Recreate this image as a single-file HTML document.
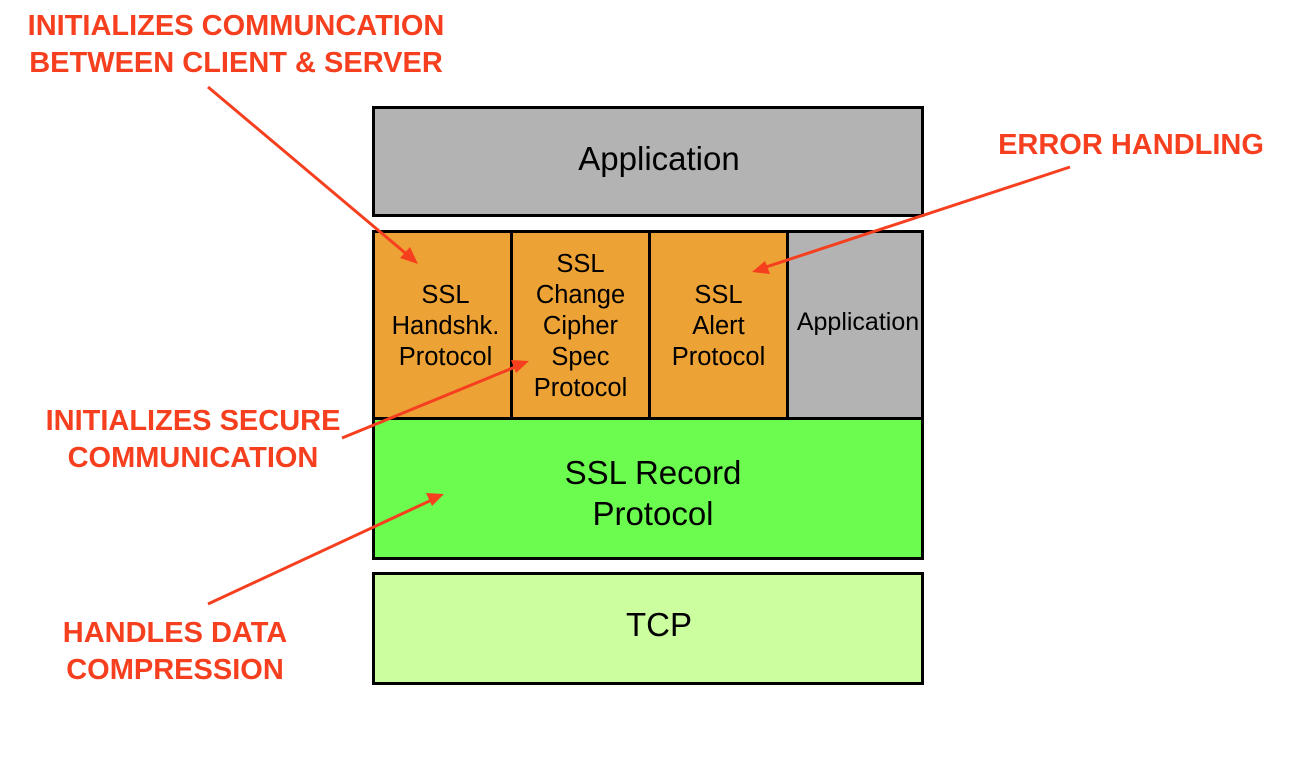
<!DOCTYPE html>
<html><head><style>
body{margin:0;width:1306px;height:758px;background:#fff;position:relative;overflow:hidden;font-family:"Liberation Sans",sans-serif}
.b{position:absolute;box-sizing:border-box;border:3px solid #000;display:flex;align-items:center;justify-content:center;text-align:center;color:#000}
.l{position:absolute;color:#f53f1f;font-weight:bold;font-size:29px;line-height:37px;text-align:center;white-space:nowrap}
</style></head><body>
<div class="b" style="left:372px;top:106px;width:552px;height:111px;background:#b3b3b3;font-size:33px;padding:0 0 6px 22px">Application</div>
<div class="b" style="left:372px;top:230px;width:141px;height:190px;background:#eda236;font-size:25.5px;line-height:31px;padding:2px 0 0 6px">SSL<br>Handshk.<br>Protocol</div>
<div class="b" style="left:510px;top:230px;width:141px;height:190px;background:#eda236;font-size:25.5px;line-height:31px;padding:2px 0 0 0">SSL<br>Change<br>Cipher<br>Spec<br>Protocol</div>
<div class="b" style="left:648px;top:230px;width:141px;height:190px;background:#eda236;font-size:25.5px;line-height:31px;padding:2px 0 0 0">SSL<br>Alert<br>Protocol</div>
<div class="b" style="left:786px;top:230px;width:138px;height:190px;background:#b3b3b3;font-size:25px;padding:0 0 6px 6px;white-space:nowrap">Application</div>
<div class="b" style="left:372px;top:417px;width:552px;height:143px;background:#6cfc50;font-size:33px;line-height:41px;padding:8px 0 0 10px">SSL Record<br>Protocol</div>
<div class="b" style="left:372px;top:572px;width:552px;height:113px;background:#ccfe9f;font-size:33px;padding:0 0 8px 22px">TCP</div>
<div class="l" style="left:16px;top:8px;width:440px">INITIALIZES COMMUNCATION<br>BETWEEN CLIENT &amp; SERVER</div>
<div class="l" style="left:990px;top:127px;width:282px">ERROR HANDLING</div>
<div class="l" style="left:38px;top:403px;width:310px">INITIALIZES SECURE<br>COMMUNICATION</div>
<div class="l" style="left:50px;top:615px;width:250px">HANDLES DATA<br>COMPRESSION</div>
<svg width="1306" height="758" style="position:absolute;left:0;top:0">
<g stroke="#f53f1f" stroke-width="3" fill="none">
<line x1="208" y1="87" x2="410" y2="257"/>
<line x1="1070" y1="167" x2="760" y2="269"/>
<line x1="342" y1="438" x2="520" y2="365"/>
<line x1="208" y1="604" x2="436" y2="498"/>
</g>
<g fill="#f53f1f">
<path d="M418,264 L400,258 L410,247 Z"/>
<path d="M752,272 L765,261 L770,274 Z"/>
<path d="M529,361 L516,373 L511,360 Z"/>
<path d="M444,494 L432,506 L426,493 Z"/>
</g>
</svg>
</body></html>
